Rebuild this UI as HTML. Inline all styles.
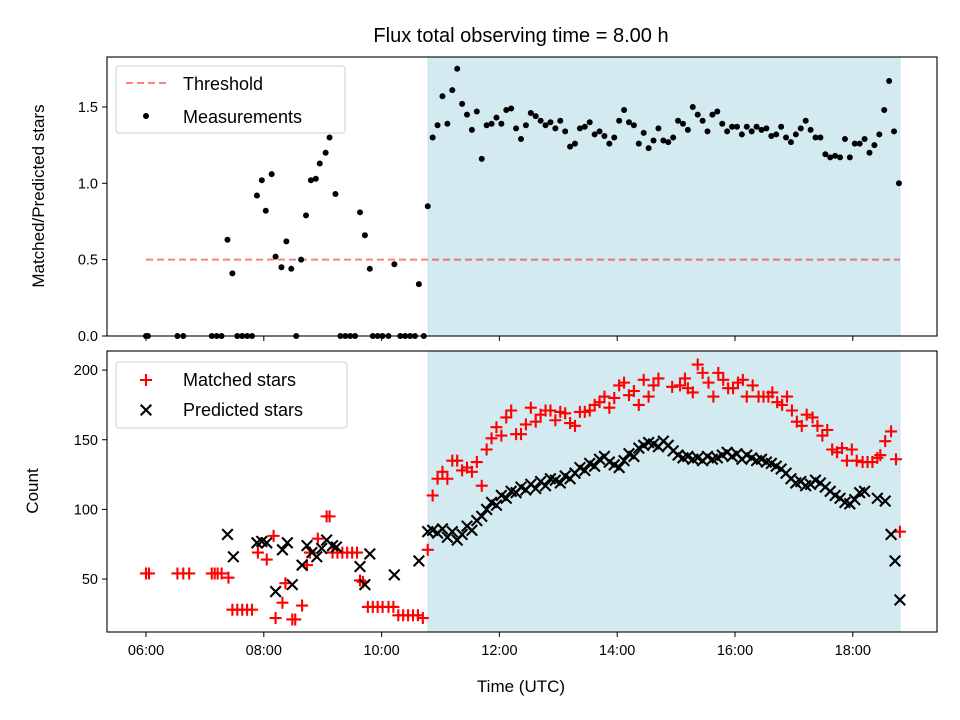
<!DOCTYPE html>
<html><head><meta charset="utf-8"><style>
html,body{margin:0;padding:0;background:#fff}
svg{display:block;font-family:"Liberation Sans","DejaVu Sans",sans-serif}
</style></head><body>
<svg id="chart" width="960" height="720" viewBox="0 0 960 720">
<text x="521" y="42" font-size="20" text-anchor="middle">Flux total observing time = 8.00 h</text>
<g id="top"></g><g id="bot"></g>
</svg>
<script>
// times in minutes since 06:00 UTC
const topTimesLeft = [0,2,32,38,67,72,77,83,88,93,98,103,108,113,118,122,128,132,138,143,148,153,158,163,168,173,177,183,187,193,198,203,208,213,218,223,228,231,236,241,247,253,259,264,269,274,278,283];
const topValsLeft = [0,0,0,0,0,0,0,0.63,0.41,0,0,0,0,0.92,1.02,0.82,1.06,0.52,0.45,0.62,0.44,0,0.50,0.79,1.02,1.03,1.13,1.20,1.30,0.93,0,0,0,0,0.81,0.66,0.44,0,0,0,0,0.47,0,0,0,0,0.34,0];
const topValsShaded = [0.85,1.30,1.38,1.57,1.39,1.61,1.75,1.52,1.45,1.35,1.47,1.16,1.38,1.39,1.43,1.39,1.48,1.49,1.36,1.29,1.38,1.46,1.44,1.41,1.38,1.40,1.36,1.41,1.34,1.24,1.26,1.36,1.37,1.40,1.32,1.34,1.31,1.26,1.30,1.41,1.48,1.40,1.38,1.26,1.33,1.23,1.28,1.36,1.28,1.27,1.30,1.41,
1.39,1.35,1.50,1.45,1.41,1.34,1.45,1.47,1.39,1.34,1.37,1.37,1.32,1.37,1.34,1.37,1.35,1.36,1.31,1.32,1.37,1.30,1.27,1.32,1.36,1.41,1.35,1.30,1.30,1.19,1.17,1.18,1.17,1.29,1.17,1.26,1.26,1.29,1.20,1.25,1.32,1.48,1.67,1.34,1.00];
const matchedTimes = [0,3,32,38,44,67,70,73,77,84,88,93,98,103,108,114,123,130,132,139,142,149,152,159,164,167,175,184,187,190,195,200,205,210,215,218,221,226,231,236,241,247,252,257,262,267,272,277,282,
287,292,297,302,307,312,317,322,327,332,337,342,347,352,357,362,367,372,377,382,387,392,397,402,407,412,417,422,427,432,437,442,447,452,457,462,467,472,477,482,487,492,497,502,507,512,517,522,
536,544,549,552,557,562,567,573,578,583,588,593,598,603,608,612,618,624,629,634,638,643,648,653,658,663,668,673,679,684,689,694,699,704,709,714,719,724,730,735,740,745,748,753,759,764,768];
const matchedVals = [54,54,54,54,54,54,54,54,54,51,28,28,28,28,28,69,64,81,22,33,47,21,21,31,60,69,79,95,95,69,69,69,69,69,69,49,48,30,30,30,30,30,30,24,24,24,24,24,22,
71,110,122,127,122,135,135,128,130,127,134,117,143,151,159,153,166,171,154,154,161,173,163,168,171,171,164,170,169,162,160,170,170,171,175,177,181,173,180,189,191,182,185,175,193,181,189,194,188,
189,194,187,184,204,198,191,181,198,193,187,187,191,193,181,189,181,181,181,184,177,175,181,171,163,160,168,166,160,153,157,143,141,144,135,143,135,134,134,134,137,139,149,156,136,84,35];
const predTimesLeft = [83,89,113,118,123,132,139,144,149,159,164,169,174,179,184,190,194,218,223,228,253,278,287];
const predValsLeft = [82,66,76,77,76,41,71,76,46,60,74,69,66,72,78,74,73,59,46,68,53,63,84];
const predValsShaded = [85,83,86,80,84,78,82,88,85,92,95,100,105,103,110,108,113,112,116,114,118,115,120,117,122,121,119,124,122,126,130,128,133,131,136,138,134,132,130,135,140,138,144,146,148,147,145,149,146,142,139,137,138,136,137,135,138,136,137,139,141,138,140,136,139,137,135,136,134,133,131,129,126,122,119,120,117,118,121,119,116,113,110,108,105,104,107,112,113,108,106,82,63,35];
const predTimesTail = [745,753,759,763,768];
const xTickLabels = ["06:00","08:00","10:00","12:00","14:00","16:00","18:00"];
const xTickMins = [0,120,240,360,480,600,720];
const topTicks = [0,0.5,1.0,1.5];
const botTicks = [50,100,150,200];
const threshold = 0.5;
const obsStart = 287.4, obsEnd = 768;

const NS="http://www.w3.org/2000/svg";
function mk(parent,tag,attrs){const e=document.createElementNS(NS,tag);for(const k in attrs)e.setAttribute(k,attrs[k]);parent.appendChild(e);return e;}
const X = m => 146 + m*58.9/60;
const Ytop = v => 336 - v*152.7;
const Ybot = v => 648.7 - v*1.393;
const L=107,R=937;

const predTimesShaded=[];
for(let i=0;i<predValsShaded.length-predTimesTail.length;i++) predTimesShaded.push(292+5*i);
predTimesTail.forEach(t=>predTimesShaded.push(t));

function panel(g,T,B,name){
  const sh=mk(g,'rect',{x:X(obsStart),y:T,width:X(obsEnd)-X(obsStart),height:B-T,fill:'#d4eaf1',stroke:'#c3e1ea'});
  
  
}
function frame(g,T,B,name,labels){
  const f=mk(g,'rect',{x:L,y:T,width:R-L,height:B-T,fill:'none',stroke:'#000','stroke-width':1.1});
  
  
  xTickMins.forEach((m,i)=>{
    const t=mk(g,'line',{x1:X(m),x2:X(m),y1:B,y2:B+5,stroke:'#000','stroke-width':1});
    
    
    if(labels){
      const tx=mk(g,'text',{x:X(m),y:B+23,'font-size':14.5,'text-anchor':'middle'});
      tx.textContent=xTickLabels[i];
      
      
    }
  });
}
function yticks(g,ticks,Y,fmt){
  ticks.forEach(v=>{
    mk(g,'line',{x1:L-5,x2:L,y1:Y(v),y2:Y(v),stroke:'#000','stroke-width':1});
    const t=mk(g,'text',{x:L-9,y:Y(v)+5,'font-size':14.5,'text-anchor':'end'});
    t.textContent=fmt(v);
    
    
  });
}
const gt=document.getElementById('top');
panel(gt,57,336,'top');
const th=mk(gt,'line',{x1:X(0),x2:X(obsEnd),y1:Ytop(threshold),y2:Ytop(threshold),stroke:'#ff0000','stroke-opacity':0.5,'stroke-width':2,'stroke-dasharray':'7,4'});


function dot(t,v){
  const c=mk(gt,'circle',{cx:X(t),cy:Ytop(v),r:3,fill:'#000'});
  
  
}
topTimesLeft.forEach((t,i)=>dot(t,topValsLeft[i]));
topValsShaded.forEach((v,i)=>dot(287+5*i,v));
frame(gt,57,336,'top',false);
yticks(gt,topTicks,Ytop,v=>v.toFixed(1));
const gb=document.getElementById('bot');
panel(gb,351,632,'bottom');
function plus(t,v){
  const x=X(t),y=Ybot(v),s=6;
  const p=mk(gb,'path',{d:`M${x-s},${y}H${x+s}M${x},${y-s}V${y+s}`,stroke:'#ff0000','stroke-width':2.1,fill:'none'});
  
  
}
function cross(t,v){
  const x=X(t),y=Ybot(v),s=5.3;
  const p=mk(gb,'path',{d:`M${x-s},${y-s}L${x+s},${y+s}M${x-s},${y+s}L${x+s},${y-s}`,stroke:'#000','stroke-width':2.1,fill:'none'});
  
  
}
matchedTimes.forEach((t,i)=>plus(t,matchedVals[i]));
predTimesLeft.forEach((t,i)=>cross(t,predValsLeft[i]));
predValsShaded.forEach((v,i)=>cross(predTimesShaded[i],v));
frame(gb,351,632,'bottom',true);
yticks(gb,botTicks,Ybot,v=>String(v));
</script>
<svg style="position:absolute;left:0;top:0" width="960" height="720" viewBox="0 0 960 720" font-family="Liberation Sans, sans-serif">
<g>
<rect x="116" y="66" width="229" height="67" rx="3" fill="#fff" fill-opacity="0.8" stroke="#d0d0d0"/>
<line x1="126" x2="166" y1="83" y2="83" stroke="#ff0000" stroke-opacity="0.5" stroke-width="2" stroke-dasharray="7,4"/>
<text x="183" y="90" font-size="18">Threshold</text>
<circle cx="146" cy="116" r="3" fill="#000"/>
<text x="183" y="123" font-size="18">Measurements</text>
</g>
<g>
<rect x="116" y="362" width="231" height="66" rx="3" fill="#fff" fill-opacity="0.8" stroke="#d0d0d0"/>
<path d="M140,380H152M146,374V386" stroke="#ff0000" stroke-width="2.1"/>
<text x="183" y="386" font-size="18">Matched stars</text>
<path d="M140.7,404.7L151.3,415.3M140.7,415.3L151.3,404.7" stroke="#000" stroke-width="2.1"/>
<text x="183" y="416" font-size="18">Predicted stars</text>
</g>
<text transform="translate(44,196) rotate(-90)" font-size="17" text-anchor="middle">Matched/Predicted stars</text>
<text transform="translate(38,491) rotate(-90)" font-size="17" text-anchor="middle">Count</text>
<text x="521" y="692" font-size="17" text-anchor="middle">Time (UTC)</text>
</svg>
</body></html>
